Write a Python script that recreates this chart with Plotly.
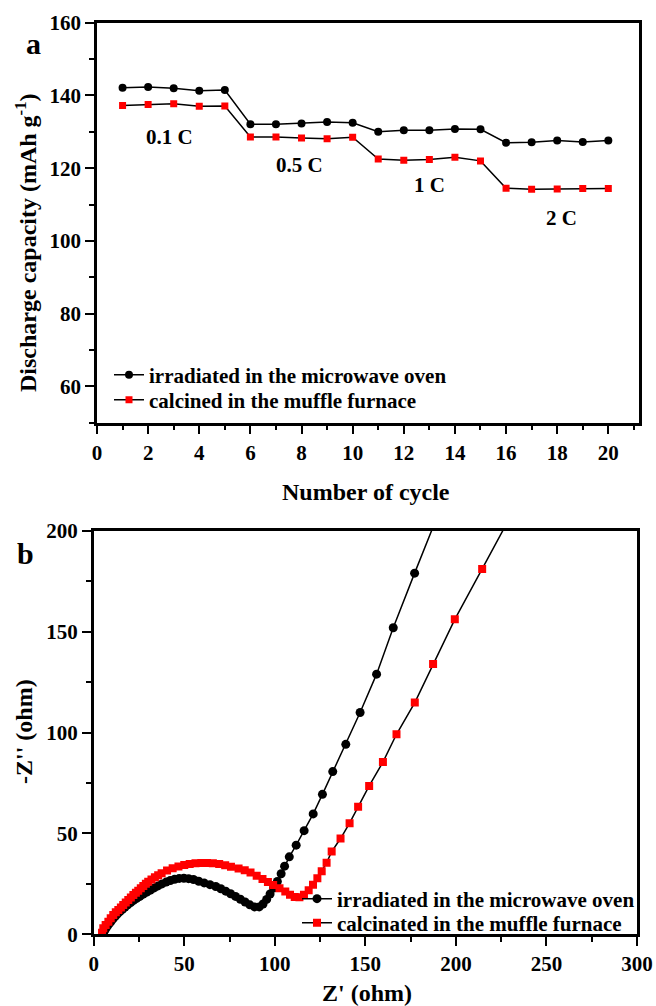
import plotly.graph_objects as go

W, H = 656, 1006

# ---------- panel a: rate capability ----------
cycles = list(range(1, 21))
cap_microwave = [142.1, 142.3, 142.0, 141.3, 141.5, 132.1, 132.1, 132.3, 132.7, 132.5,
                 130.0, 130.4, 130.4, 130.8, 130.7, 127.0, 127.1, 127.6, 127.2, 127.6]
cap_muffle = [137.2, 137.5, 137.7, 137.0, 137.1, 128.6, 128.6, 128.3, 128.1, 128.5,
              122.5, 122.2, 122.4, 123.0, 122.0, 114.5, 114.2, 114.3, 114.4, 114.4]
rate_labels = ["0.1 C", "0.5 C", "1 C", "2 C"]
rate_label_x = [2.85, 7.93, 13.0, 18.16]
rate_label_y = [128.6, 121.0, 115.5, 106.4]

# ---------- panel b: Nyquist plots ----------
zre_microwave = [5.3, 6.0, 6.8, 7.7, 8.7, 9.7, 10.8, 12.0, 13.2, 14.5, 15.9, 17.3, 18.8, 20.4,
                 22.0, 23.7, 25.5, 27.4, 29.3, 31.3, 33.4, 35.5, 37.7, 40.0, 42.3, 44.7, 47.2,
                 49.8, 52.4, 55.1, 58.0, 61.0, 64.2, 67.4, 70.2, 72.9, 75.6, 78.3, 81.0, 83.6,
                 86.2, 88.8, 91.4, 93.5, 95.5, 97.4, 99.3, 101.4, 103.5, 105.4, 108.0, 111.8,
                 116.2, 121.2, 126.3, 132.0, 139.2, 147.1, 156.2, 165.4, 177.2, 190.5]
zim_microwave = [0.5, 1.8, 3.0, 4.2, 5.4, 6.6, 7.8, 9.0, 10.2, 11.3, 12.4, 13.5, 14.6, 15.7,
                 16.8, 17.8, 18.8, 19.9, 20.9, 21.9, 23.0, 24.0, 25.0, 25.9, 26.7, 27.3, 27.7,
                 27.8, 27.6, 27.2, 26.3, 25.5, 24.6, 23.7, 22.6, 21.4, 20.1, 18.8, 17.4, 16.0,
                 14.6, 13.6, 13.6, 15.0, 17.3, 20.0, 22.9, 26.2, 30.0, 33.8, 38.4, 44.2,
                 51.4, 59.7, 69.4, 80.7, 94.2, 110.0, 129.0, 152.0, 179.1, 209.0]

zre_muffle = [4.6, 5.3, 6.6, 8.1, 9.4, 10.8, 12.2, 13.6, 15.0, 16.3, 17.7, 19.1, 20.5, 21.9,
              23.3, 24.6, 26.0, 27.4, 28.8, 30.1, 31.9, 33.8, 35.6, 37.5, 40.5, 43.6, 46.8,
              50.0, 53.0, 56.2, 59.4, 62.6, 65.8, 69.3, 72.6, 75.8, 80.0, 83.4, 86.6, 90.0,
              93.2, 96.2, 99.1, 102.6, 105.8, 108.4, 111.0, 113.6, 116.1, 118.7, 121.1, 123.5,
              125.9, 128.6, 131.4, 136.3, 141.3, 146.0, 152.1, 159.7, 167.2, 177.3, 187.4,
              199.4, 214.5, 233.0]
zim_muffle = [0.8, 3.0, 4.6, 6.2, 7.9, 9.6, 10.9, 12.1, 13.3, 14.5, 15.8, 17.0, 18.3, 19.5,
              20.6, 21.6, 22.8, 24.0, 25.1, 26.1, 27.2, 28.3, 29.3, 30.3, 31.6, 32.7, 33.6,
              34.4, 34.9, 35.2, 35.4, 35.4, 35.2, 34.9, 34.2, 33.5, 32.6, 31.8, 30.6, 29.0,
              27.4, 25.9, 24.5, 22.8, 21.2, 19.6, 18.5, 18.4, 19.6, 21.8, 24.6, 27.8,
              31.3, 35.5, 41.0, 47.5, 55.1, 63.3, 73.6, 85.4, 99.2, 114.9, 134.1,
              156.2, 181.2, 212.0]

FONT = "Liberation Serif"
RED = "#ff0000"


def px_x(p):
    return p / W


def px_y(p):
    return 1 - p / H


fig = go.Figure()

fig.add_trace(go.Scatter(
    x=cycles, y=cap_microwave, mode="lines+markers", name="irradiated in the microwave oven",
    line=dict(color="black", width=1.5),
    marker=dict(symbol="circle", size=8, color="black"),
    xaxis="x", yaxis="y", legend="legend"))
fig.add_trace(go.Scatter(
    x=cycles, y=cap_muffle, mode="lines+markers", name="calcined in the muffle furnace",
    line=dict(color="black", width=1.5),
    marker=dict(symbol="square", size=7, color=RED, line=dict(width=0)),
    xaxis="x", yaxis="y", legend="legend2"))

fig.add_trace(go.Scatter(
    x=zre_microwave, y=zim_microwave, mode="lines+markers", name="irradiated in the microwave oven",
    line=dict(color="black", width=1.5),
    marker=dict(symbol="circle", size=9, color="black"),
    xaxis="x2", yaxis="y2", legend="legend3"))
fig.add_trace(go.Scatter(
    x=zre_muffle, y=zim_muffle, mode="lines+markers", name="calcinated in the muffle furnace",
    line=dict(color="black", width=1.5),
    marker=dict(symbol="square", size=8, color=RED, line=dict(width=0)),
    xaxis="x2", yaxis="y2", legend="legend4"))

axis_common = dict(
    showline=True, mirror=True, linecolor="black", linewidth=2.5,
    ticks="outside", ticklen=9, tickwidth=2, tickcolor="black",
    showgrid=False, zeroline=False, automargin=False,
    tickfont=dict(family=FONT, size=21, color="black", weight="bold"),
)


def leg(x, y):
    return dict(x=px_x(x), y=px_y(y), xanchor="left", yanchor="middle",
                bgcolor="rgba(0,0,0,0)", borderwidth=0,
                font=dict(family=FONT, size=21, color="black", weight="bold"))


fig.update_layout(
    template="none",
    width=W, height=H, margin=dict(l=0, r=0, t=0, b=0, autoexpand=False),
    paper_bgcolor="white", plot_bgcolor="white",
    font=dict(family=FONT, color="black", weight="bold"),
    xaxis=dict(axis_common, domain=[px_x(97), px_x(639)], range=[0, 21.2],
               tickmode="linear", tick0=0, dtick=2, anchor="y",
               minor=dict(ticks="outside", dtick=1, ticklen=5, tickwidth=2, tickcolor="black")),
    yaxis=dict(axis_common, domain=[px_y(422.7), px_y(22.7)], range=[50, 160],
               tickmode="linear", tick0=0, dtick=20, anchor="x",
               minor=dict(ticks="outside", dtick=10, ticklen=5, tickwidth=2, tickcolor="black")),
    xaxis2=dict(axis_common, domain=[px_x(93.7), px_x(637)], range=[0, 300],
                tickmode="linear", tick0=0, dtick=50, anchor="y2",
                minor=dict(ticks="outside", dtick=25, ticklen=5, tickwidth=2, tickcolor="black")),
    yaxis2=dict(axis_common, domain=[px_y(934.3), px_y(531)], range=[0, 200],
                tickmode="linear", tick0=0, dtick=50, anchor="x2",
                minor=dict(ticks="outside", dtick=25, ticklen=5, tickwidth=2, tickcolor="black")),
    legend=leg(109, 375),
    legend2=leg(109, 400),
    legend3=leg(297, 899),
    legend4=leg(297, 923),
    showlegend=True,
)

annotations = []
for t, ax, ay in zip(rate_labels, rate_label_x, rate_label_y):
    annotations.append(dict(text=t, x=ax, y=ay, xref="x", yref="y", showarrow=False,
                            font=dict(family=FONT, size=21, color="black", weight="bold")))


def paper_text(text, x, y, size, angle=0):
    return dict(text=text, x=px_x(x), y=px_y(y), xref="paper", yref="paper", showarrow=False,
                textangle=angle, xanchor="center", yanchor="middle",
                font=dict(family=FONT, size=size, color="black", weight="bold"))


annotations += [
    paper_text("a", 33, 43, 30),
    paper_text("b", 25, 553, 30),
    paper_text("Discharge capacity (mAh g<sup>-1</sup>)", 26, 243, 24, -90),
    paper_text("Number of cycle", 366, 492, 24),
    paper_text("-Z'' (ohm)", 24, 732, 24, -90),
    paper_text("Z' (ohm)", 367, 993, 24),
]
fig.update_layout(annotations=annotations)

# remove the browser's default 8 px body margin so the figure fills the window exactly
fig.write_html(
    "out.html",
    config={"displayModeBar": False},
    post_script="document.body.style.margin='0';document.body.style.overflow='hidden';",
)
